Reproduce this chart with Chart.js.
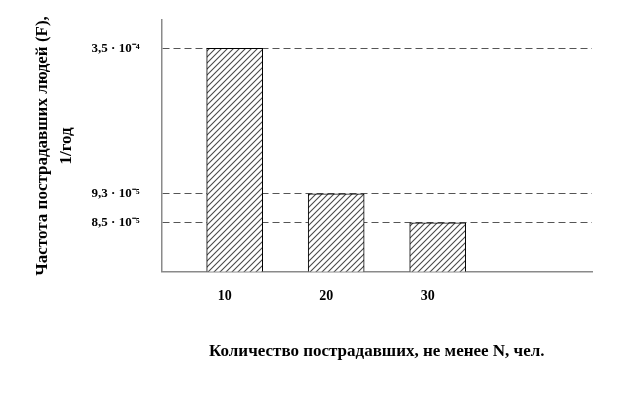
<!DOCTYPE html>
<html>
<head>
<meta charset="utf-8">
<script src="https://cdn.jsdelivr.net/npm/chart.js@4"></script>
<style>
  html, body { margin: 0; padding: 0; background: #fff; }
  #box { width: 642px; height: 402px; }
</style>
</head>
<body>
<div id="box"><canvas id="grafico"></canvas></div>
<script>
// dados
var pessoas = [10, 20, 30];
var frequencia = [3.5e-4, 9.3e-5, 8.5e-5];
var ticksY = [3.5e-4, 9.3e-5, 8.5e-5];
var rotulosY = ['3,5 · 10⁻⁴', '9,3 · 10⁻⁵', '8,5 · 10⁻⁵'];
var ticksX = [10, 20, 30];

// o eixo Y do original não é proporcional, então uso uma escala por trechos
class EscalaTrechos extends Chart.LinearScale {
    static id = 'trechos';
    static defaults = Chart.LinearScale.defaults;

    paraDecimal(v) {
        var s = this.options.trechos;
        if (v <= s[0][0]) return s[0][1];
        for (var i = 1; i < s.length; i++) {
            if (v <= s[i][0]) {
                var t = (v - s[i - 1][0]) / (s[i][0] - s[i - 1][0]);
                return s[i - 1][1] + t * (s[i][1] - s[i - 1][1]);
            }
        }
        return s[s.length - 1][1];
    }
    getPixelForValue(v) {
        return this.getPixelForDecimal(this.paraDecimal(v));
    }
    getValueForPixel(p) {
        var d = this.getDecimalForPixel(p);
        var s = this.options.trechos;
        for (var i = 1; i < s.length; i++) {
            if (d <= s[i][1]) {
                var t = (d - s[i - 1][1]) / (s[i][1] - s[i - 1][1]);
                return s[i - 1][0] + t * (s[i][0] - s[i - 1][0]);
            }
        }
        return s[s.length - 1][0];
    }
}
Chart.register(EscalaTrechos);

function hachura() {
    var c = document.createElement('canvas');
    c.width = 6; c.height = 6;
    var g = c.getContext('2d');
    g.fillStyle = '#fff';
    g.fillRect(0, 0, 6, 6);
    g.strokeStyle = '#4a4a4a';
    g.lineWidth = 1.1;
    g.beginPath();
    g.moveTo(0, 6); g.lineTo(6, 0);
    g.moveTo(-1, 1); g.lineTo(1, -1);
    g.moveTo(5, 7); g.lineTo(7, 5);
    g.stroke();
    return g.createPattern(c, 'repeat');
}

var pontos = [];
for (var i = 0; i < pessoas.length; i++) {
    pontos.push({ x: pessoas[i], y: frequencia[i] });
}

var fonte = 'Liberation Serif';

var ctx = document.getElementById('grafico').getContext('2d');
var myChart = new Chart(ctx, {
    type: 'bar',
    data: {
        datasets: [{
            data: pontos,
            backgroundColor: hachura(),
            borderColor: '#000',
            borderWidth: 1,
            barThickness: 56
        }]
    },
    options: {
        responsive: true,
        maintainAspectRatio: false,
        animation: false,
        layout: { padding: { top: 20, right: 50, bottom: 40, left: 31 } },
        plugins: {
            legend: { display: false },
            tooltip: { enabled: false }
        },
        scales: {
            x: {
                type: 'linear',
                offset: false,
                min: 2.8,
                max: 45.2,
                afterBuildTicks: function (s) { s.ticks = ticksX.map(function (v) { return { value: v }; }); },
                grid: { display: false },
                border: { color: '#8a8a8a', width: 1.5 },
                ticks: {
                    color: '#000',
                    font: { family: fonte, size: 14, weight: 'bold' },
                    padding: 8,
                    labelOffset: -10,
                    maxRotation: 0,
                    callback: function (v) { return String(v); }
                },
                title: {
                    display: true,
                    text: 'Количество пострадавших, не менее N, чел.',
                    color: '#000',
                    font: { family: fonte, size: 17, weight: 'bold' },
                    padding: { top: 29, bottom: 0 }
                }
            },
            y: {
                type: 'trechos',
                min: 0,
                max: 4e-4,
                trechos: [[0, 0], [8.5e-5, 0.194], [9.3e-5, 0.31], [4e-4, 1]],
                afterBuildTicks: function (s) { s.ticks = ticksY.map(function (v) { return { value: v }; }); },
                grid: { color: '#555', lineWidth: 1, tickLength: 10, tickColor: 'rgba(0,0,0,0)' },
                border: { color: '#8a8a8a', width: 1.5, dash: [7, 4] },
                ticks: {
                    color: '#000',
                    font: { family: fonte, size: 13, weight: 'bold' },
                    padding: 12,
                    callback: function (v) { return rotulosY[ticksY.indexOf(v)]; }
                },
                title: {
                    display: true,
                    text: ['Частота пострадавших людей (F),', '1/год'],
                    color: '#000',
                    font: { family: fonte, size: 17, weight: 'bold', lineHeight: 1.4 },
                    padding: { top: 0, bottom: 1 }
                }
            }
        }
    }
});
</script>
</body>
</html>
